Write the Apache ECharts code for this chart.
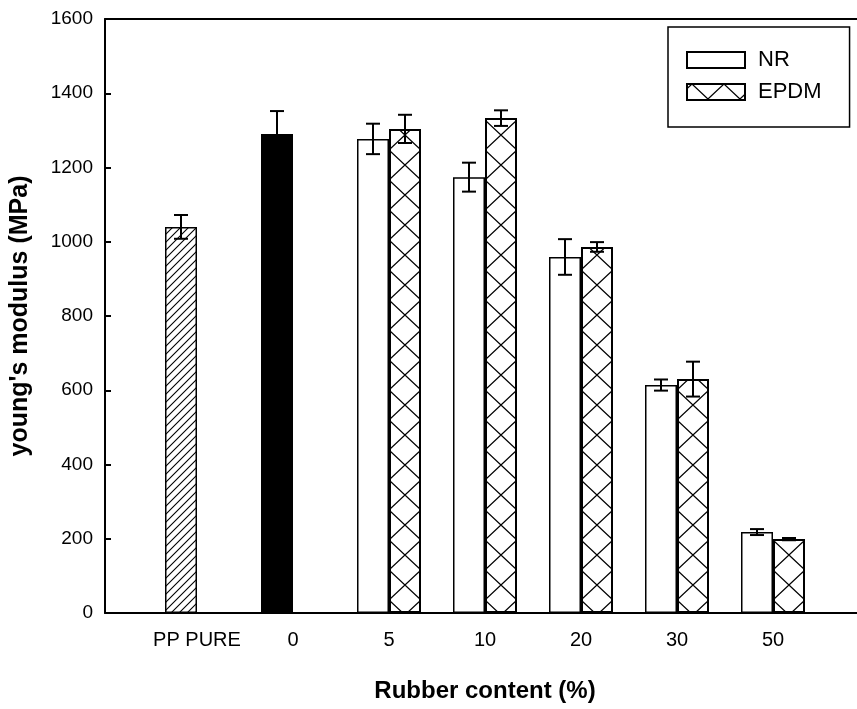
<!DOCTYPE html>
<html>
<head>
<meta charset="utf-8">
<script src="https://cdn.jsdelivr.net/npm/echarts@6/dist/echarts.min.js"></script>
<style>
html,body{margin:0;padding:0;background:#fff;}
#chart{width:857px;height:709px;}
</style>
</head>
<body>
<div id="chart"></div>
<script>
// ---- data ----
const categories = ['PP PURE', '0', '5', '10', '20', '30', '50'];
const neatValues = [1040, 1290, null, null, null, null, null];
const neatErrors = [32, 62, null, null, null, null, null];
const nrValues   = [null, null, 1277, 1174, 959, 614, 218];
const nrErrors   = [null, null, 41, 39, 48, 15, 8];
const epdmValues = [null, null, 1304, 1333, 986, 630, 199];
const epdmErrors = [null, null, 38, 21, 13, 47, 3];
const yMin = 0, yMax = 1600, yStep = 200;

// ---- styles ----
const FONT = "'Liberation Sans', Arial, sans-serif";
const BAR_W = 32;

function makeHatch() {
  const c = document.createElement('canvas');
  c.width = 8; c.height = 8;
  const g = c.getContext('2d');
  g.fillStyle = '#fff'; g.fillRect(0, 0, 8, 8);
  g.strokeStyle = '#000'; g.lineWidth = 1.1;
  g.beginPath();
  g.moveTo(-1, 9); g.lineTo(9, -1);
  g.moveTo(-5, 5); g.lineTo(5, -5);
  g.moveTo(3, 13); g.lineTo(13, 3);
  g.stroke();
  return c;
}
function makeCross(shift) {
  const w = 32, h = 30;
  const c = document.createElement('canvas');
  c.width = w; c.height = h;
  const g = c.getContext('2d');
  g.fillStyle = '#fff'; g.fillRect(0, 0, w, h);
  g.strokeStyle = '#000'; g.lineWidth = 1.2;
  g.beginPath();
  for (let k = -1; k <= 1; k++) {
    const x0 = shift + k * w;
    g.moveTo(x0, 0); g.lineTo(x0 + w, h);
    g.moveTo(x0 + w, 0); g.lineTo(x0, h);
  }
  g.stroke();
  return c;
}
const hatchFill = { image: makeHatch(), repeat: 'repeat' };
const crossFill = { image: makeCross(5), repeat: 'repeat' };

const dash = v => (v == null ? '-' : v);
const neatStyles = [
  { color: hatchFill, borderColor: '#000', borderWidth: 1.5 },
  { color: '#000', borderColor: '#000', borderWidth: 1.5 }
];
const neatData = neatValues.map((v, i) =>
  v == null ? '-' : { value: v, itemStyle: neatStyles[i] });

const errData = [];
function addErr(vals, errs, side) {
  vals.forEach((v, i) => { if (v != null) errData.push([i, v, errs[i], side]); });
}
addErr(neatValues, neatErrors, -1);
addErr(nrValues, nrErrors, -1);
addErr(epdmValues, epdmErrors, 1);

const axisLineStyle = { color: '#000', width: 2 };
const chart = echarts.init(document.getElementById('chart'), null, { renderer: 'canvas' });
chart.setOption({
  animation: false,
  backgroundColor: '#fff',
  grid: [
    { left: 105, right: -20, top: 19, bottom: 96 },
    { left: 149, right: 36, top: 19, bottom: 96 }
  ],
  legend: {
    data: ['NR', 'EPDM'],
    orient: 'vertical',
    left: 668, top: 27,
    padding: [22, 28, 24, 18],
    itemGap: 10,
    itemWidth: 58, itemHeight: 16,
    icon: 'rect',
    borderColor: '#000', borderWidth: 1.5,
    textStyle: { fontFamily: FONT, fontSize: 22, color: '#000', padding: [0, 0, 0, 8] }
  },
  xAxis: [
    { type: 'value', gridIndex: 0, min: 0, max: 1, position: 'bottom',
      axisLine: { show: true, onZero: false, lineStyle: axisLineStyle },
      axisTick: { show: false }, axisLabel: { show: false }, splitLine: { show: false } },
    { type: 'category', gridIndex: 1, data: categories,
      axisLine: { show: false }, axisTick: { show: false },
      axisLabel: { interval: 0, fontFamily: FONT, fontSize: 20, color: '#000', margin: 17 },
      name: 'Rubber content (%)', nameLocation: 'middle', nameGap: 66,
      nameTextStyle: { fontFamily: FONT, fontSize: 24, fontWeight: 'bold', color: '#000' } },
    { type: 'value', gridIndex: 0, min: 0, max: 1, position: 'top',
      axisLine: { show: true, onZero: false, lineStyle: axisLineStyle },
      axisTick: { show: false }, axisLabel: { show: false }, splitLine: { show: false } }
  ],
  yAxis: [
    { type: 'value', gridIndex: 0, min: yMin, max: yMax, interval: yStep,
      axisLine: { show: true, onZero: false, lineStyle: axisLineStyle },
      axisTick: { show: true, inside: true, length: 6, lineStyle: { color: '#000', width: 2 } },
      axisLabel: { fontFamily: FONT, fontSize: 19, color: '#000', margin: 12,
        formatter: v => String(v) },
      splitLine: { show: false },
      name: "young's modulus (MPa)", nameLocation: 'middle', nameGap: 72,
      nameTextStyle: { fontFamily: FONT, fontSize: 25, fontWeight: 'bold', color: '#000' } },
    { type: 'value', gridIndex: 1, min: yMin, max: yMax, interval: yStep, show: false }
  ],
  series: [
    { name: 'PP', type: 'bar', xAxisIndex: 1, yAxisIndex: 1, stack: 'left',
      barWidth: BAR_W, barGap: '0%', data: neatData },
    { name: 'NR', type: 'bar', xAxisIndex: 1, yAxisIndex: 1, stack: 'left',
      barWidth: BAR_W, barGap: '0%', data: nrValues.map(dash),
      itemStyle: { color: '#fff', borderColor: '#000', borderWidth: 1.5 } },
    { name: 'EPDM', type: 'bar', xAxisIndex: 1, yAxisIndex: 1,
      barWidth: BAR_W, barGap: '0%', data: epdmValues.map(dash),
      itemStyle: { color: crossFill, borderColor: '#000', borderWidth: 2 } },
    { name: 'err', type: 'custom', xAxisIndex: 1, yAxisIndex: 1, z: 10,
      data: errData,
      renderItem: function (params, api) {
        const c = api.value(0), v = api.value(1), e = api.value(2), side = api.value(3);
        const hi = api.coord([c, v + e]);
        const lo = api.coord([c, v - e]);
        const x = hi[0] + side * BAR_W / 2;
        const cap = 7;
        const st = { stroke: '#000', lineWidth: 2 };
        return { type: 'group', children: [
          { type: 'line', shape: { x1: x, y1: hi[1], x2: x, y2: lo[1] }, style: st },
          { type: 'line', shape: { x1: x - cap, y1: hi[1], x2: x + cap, y2: hi[1] }, style: st },
          { type: 'line', shape: { x1: x - cap, y1: lo[1], x2: x + cap, y2: lo[1] }, style: st }
        ] };
      } }
  ]
});
</script>
</body>
</html>
